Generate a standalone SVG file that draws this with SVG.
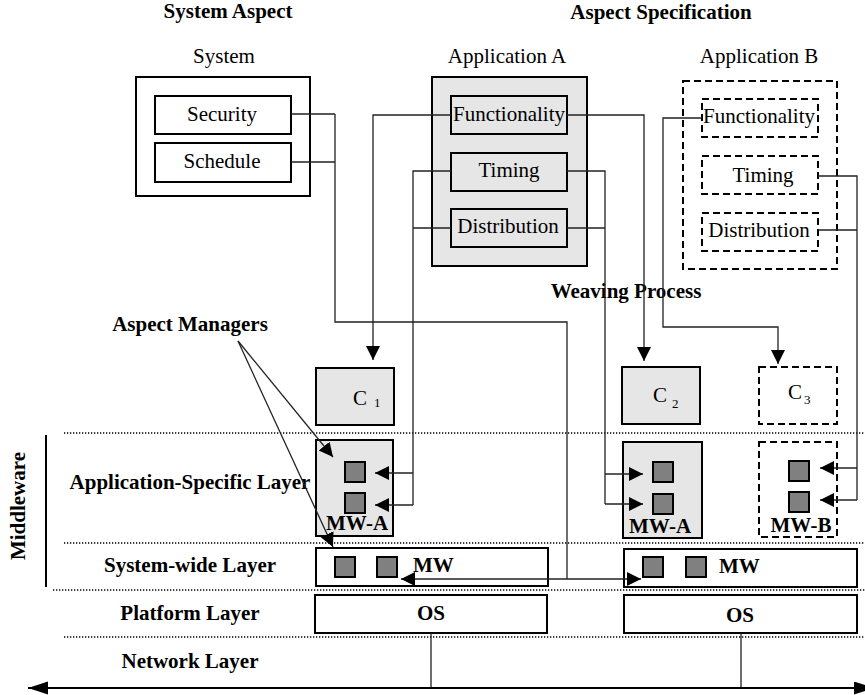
<svg xmlns="http://www.w3.org/2000/svg" width="865" height="695" viewBox="0 0 865 695">
  <style>
    text { font-family: "Liberation Serif", "Times New Roman", serif; font-size: 21px; fill: #000; }
    .b { font-weight: bold; }
    .m { text-anchor: middle; }
    .box { fill: #fff; stroke: #000; stroke-width: 2; }
    .gray { fill: #e6e6e6; stroke: #000; stroke-width: 2; }
    .dash { fill: #fff; stroke: #000; stroke-width: 2; stroke-dasharray: 7 4; }
    .sq { fill: #808080; stroke: #000; stroke-width: 2; }
    .dot { stroke: #000; stroke-width: 1.3; stroke-dasharray: 1.3 1.7; fill: none; }
    .ln { fill: none; stroke: #222; stroke-width: 1.3; }
    .arr { fill: none; stroke: #222; stroke-width: 1.3; marker-end: url(#ah); }
  </style>
  <defs>
    <marker id="ah" markerUnits="userSpaceOnUse" markerWidth="16" markerHeight="16" refX="14" refY="7" orient="auto">
      <path d="M0,0 L14,7 L0,14 z" fill="#000"/>
    </marker>
    <marker id="bus" markerUnits="userSpaceOnUse" markerWidth="22" markerHeight="14" refX="20" refY="6.5" orient="auto">
      <path d="M0,0 L20,6.5 L0,13 z" fill="#000"/>
    </marker>
  </defs>

  <!-- headings -->
  <text class="b m" x="228" y="18">System Aspect</text>
  <text class="b m" x="661" y="19">Aspect Specification</text>
  <text class="b m" x="626" y="298">Weaving Process</text>
  <text class="b m" x="190" y="331">Aspect Managers</text>

  <!-- layer separators -->
  <g id="layers">
    <line class="dot" x1="64" y1="433" x2="865" y2="433"/>
    <line class="dot" x1="64" y1="543" x2="865" y2="543"/>
    <line class="dot" x1="53" y1="590" x2="865" y2="590"/>
    <line class="dot" x1="64" y1="637" x2="865" y2="637"/>
    <line x1="46" y1="435" x2="46" y2="587" stroke="#000" stroke-width="2"/>
    <text class="b m" transform="translate(25,506) rotate(-90)">Middleware</text>
    <text class="b m" x="190" y="489">Application-Specific Layer</text>
    <text class="b m" x="190" y="572">System-wide Layer</text>
    <text class="b m" x="190" y="620">Platform Layer</text>
    <text class="b m" x="190" y="668">Network Layer</text>
  </g>

  <!-- aspect sources -->
  <g id="system">
    <text class="m" x="224" y="63">System</text>
    <rect class="box" x="136" y="77" width="174" height="119"/>
    <rect class="box" x="155" y="96" width="136" height="38"/>
    <text class="m" x="222" y="121">Security</text>
    <rect class="box" x="155" y="143" width="136" height="39"/>
    <text class="m" x="222" y="168">Schedule</text>
  </g>

  <g id="application-a">
    <text class="m" x="507" y="63">Application A</text>
    <rect class="gray" x="432" y="77" width="155" height="189"/>
    <rect class="gray" x="451" y="96" width="116" height="38"/>
    <text class="m" x="509" y="121">Functionality</text>
    <rect class="gray" x="451" y="153" width="116" height="38"/>
    <text class="m" x="509" y="177">Timing</text>
    <rect class="gray" x="451" y="209" width="116" height="38"/>
    <text class="m" x="508" y="233">Distribution</text>
  </g>

  <g id="application-b">
    <text class="m" x="759" y="63">Application B</text>
    <rect class="dash" x="683" y="81" width="154" height="188"/>
    <rect class="dash" x="702" y="99" width="116" height="38"/>
    <text class="m" x="759" y="123">Functionality</text>
    <rect class="dash" x="702" y="156" width="116" height="38"/>
    <text class="m" x="763" y="182">Timing</text>
    <rect class="dash" x="702" y="213" width="116" height="38"/>
    <text class="m" x="759" y="237">Distribution</text>
  </g>

  <!-- components -->
  <g id="c1">
    <rect class="gray" x="316" y="368" width="78" height="57"/>
    <text x="353" y="405">C<tspan font-size="13" dx="7" dy="2">1</tspan></text>
  </g>
  <g id="c2">
    <rect class="gray" x="622" y="367" width="78" height="57"/>
    <text x="653" y="402">C<tspan font-size="13" dx="5" dy="6">2</tspan></text>
  </g>
  <g id="c3">
    <rect class="dash" x="759" y="367" width="78" height="57"/>
    <text x="788" y="399" font-size="20">C<tspan font-size="13" dx="2" dy="5">3</tspan></text>
  </g>

  <!-- application-specific middleware -->
  <g id="mw-a-left">
    <rect class="gray" x="316" y="440" width="77" height="96"/>
    <rect class="sq" x="345" y="462" width="20" height="20"/>
    <rect class="sq" x="345" y="493" width="20" height="20"/>
    <text class="b m" x="357" y="530">MW-A</text>
  </g>
  <g id="mw-a-right">
    <rect class="gray" x="623" y="442" width="79" height="96"/>
    <rect class="sq" x="653" y="462" width="20" height="20"/>
    <rect class="sq" x="653" y="494" width="20" height="20"/>
    <text class="b m" x="660" y="533">MW-A</text>
  </g>
  <g id="mw-b">
    <rect class="dash" x="759" y="442" width="78" height="95"/>
    <rect class="sq" x="789" y="461" width="20" height="20"/>
    <rect class="sq" x="789" y="492" width="20" height="20"/>
    <text class="b m" x="801" y="532">MW-B</text>
  </g>

  <!-- system-wide middleware -->
  <g id="mw-left">
    <rect class="box" x="316" y="548" width="232" height="38"/>
    <rect class="sq" x="335" y="557" width="20" height="20"/>
    <rect class="sq" x="377" y="557" width="20" height="20"/>
    <text class="b" x="413" y="572">MW</text>
  </g>
  <g id="mw-right">
    <rect class="box" x="624" y="549" width="233" height="38"/>
    <rect class="sq" x="643" y="557" width="20" height="20"/>
    <rect class="sq" x="686" y="557" width="20" height="20"/>
    <text class="b" x="719" y="573">MW</text>
  </g>

  <!-- platform -->
  <g id="os-left">
    <rect class="box" x="315" y="595" width="232" height="38"/>
    <text class="b m" x="431" y="620">OS</text>
  </g>
  <g id="os-right">
    <rect class="box" x="624" y="595" width="233" height="38"/>
    <text class="b m" x="740" y="622">OS</text>
  </g>

  <!-- connectors -->
  <g id="connectors">
    <!-- system aspects to system-wide middleware -->
    <path class="ln" d="M291,114 H335 M291,162 H335 M335,114 V322 H567 V579"/>
    <path class="arr" d="M567,579 H401"/>
    <path class="arr" d="M567,579 H641"/>
    <!-- application A functionality -->
    <path class="arr" d="M451,115 H373 V360"/>
    <path class="arr" d="M567,115 H644 V361"/>
    <!-- application A timing / distribution -->
    <path class="ln" d="M451,171 H413 V505 M451,228 H413"/>
    <path class="arr" d="M413,473 H375"/>
    <path class="arr" d="M413,505 H375"/>
    <path class="ln" d="M567,171 H605 V504 M567,228 H605"/>
    <path class="arr" d="M605,474 H643"/>
    <path class="arr" d="M605,504 H643"/>
    <!-- application B -->
    <path class="arr" d="M702,118 H663 V327 H778 V364"/>
    <path class="ln" d="M818,176 H857 V500 M818,230 H857"/>
    <path class="arr" d="M857,468 H820"/>
    <path class="arr" d="M857,500 H820"/>
    <!-- aspect manager callouts -->
    <path class="arr" d="M238,341 L333,457"/>
    <path class="arr" d="M238,341 L333,547"/>
    <!-- network -->
    <path class="ln" d="M431,633 V688 M741,633 V688" stroke-width="1.6"/>
    <line x1="300" y1="688" x2="28" y2="688" stroke="#000" stroke-width="2" marker-end="url(#bus)"/>
    <line x1="300" y1="688" x2="874" y2="688" stroke="#000" stroke-width="2" marker-end="url(#bus)"/>
  </g>
</svg>
